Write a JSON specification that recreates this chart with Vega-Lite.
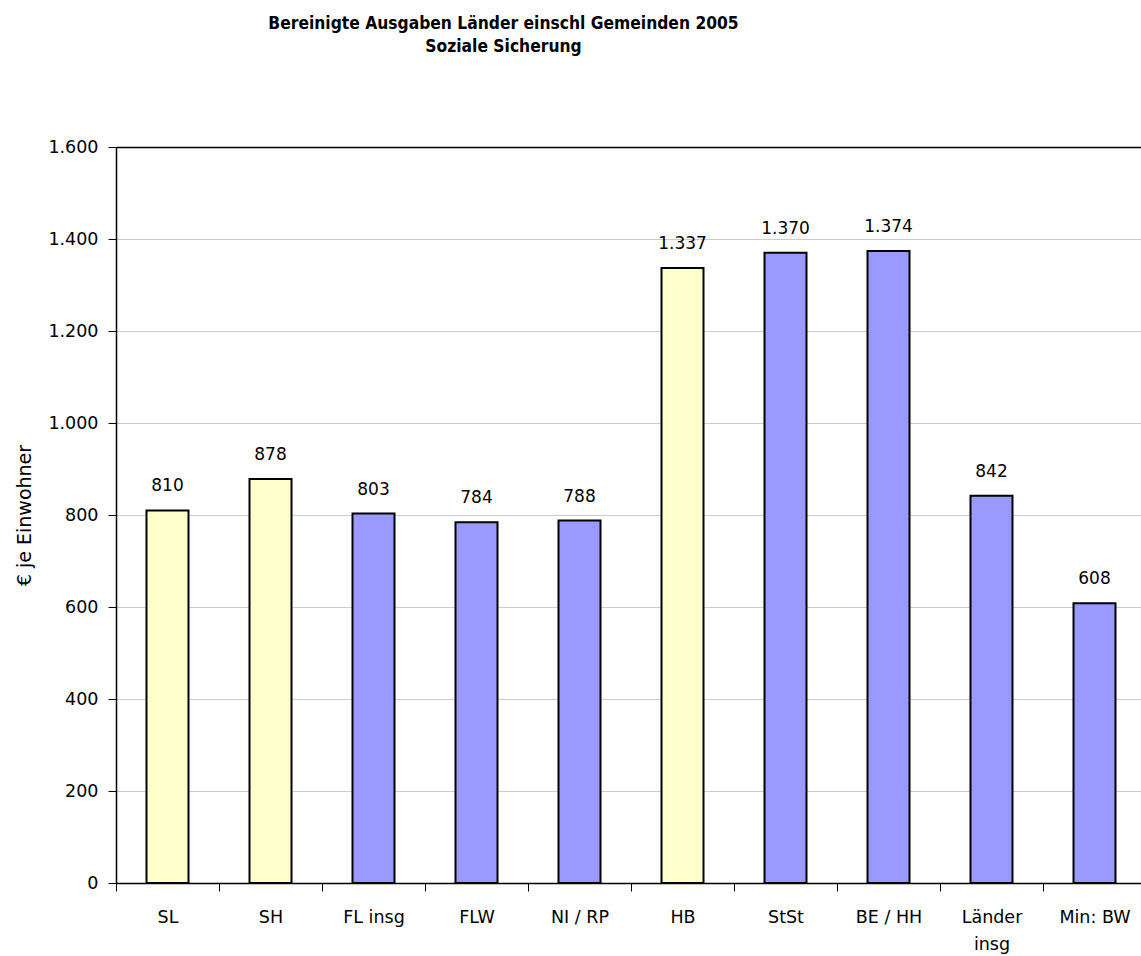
{
  "$schema": "https://vega.github.io/schema/vega-lite/v6.json",
  "autosize": {"type": "none"},
  "width": 1025,
  "height": 736,
  "padding": {"left": 116, "top": 147, "right": 0, "bottom": 73},
  "background": "white",
  "config": {
    "locale": {"number": {"decimal": ",", "thousands": ".", "grouping": [3], "currency": ["", " €"]}},
    "view": {"stroke": null},
    "font": "DejaVu Sans"
  },
  "title": {
    "text": ["Bereinigte Ausgaben Länder einschl Gemeinden 2005", "Soziale Sicherung"],
    "font": "DejaVu Sans Condensed",
    "fontSize": 17.3,
    "fontWeight": "bold",
    "lineHeight": 23,
    "anchor": "middle",
    "frame": "group",
    "dx": -125,
    "offset": 83,
    "color": "black"
  },
  "data": {
    "values": [
      {"land": "SL", "wert": 810, "gruppe": "gelb"},
      {"land": "SH", "wert": 878, "gruppe": "gelb"},
      {"land": "FL insg", "wert": 803, "gruppe": "blau"},
      {"land": "FLW", "wert": 784, "gruppe": "blau"},
      {"land": "NI / RP", "wert": 788, "gruppe": "blau"},
      {"land": "HB", "wert": 1337, "gruppe": "gelb"},
      {"land": "StSt", "wert": 1370, "gruppe": "blau"},
      {"land": "BE / HH", "wert": 1374, "gruppe": "blau"},
      {"land": "Länder insg", "wert": 842, "gruppe": "blau"},
      {"land": "Min: BW", "wert": 608, "gruppe": "blau"}
    ]
  },
  "encoding": {
    "x": {
      "field": "land",
      "type": "nominal",
      "sort": null,
      "scale": {"range": [0, 1030], "paddingInner": 0, "paddingOuter": 0},
      "axis": {
        "title": null,
        "labelAngle": 0,
        "labelFont": "DejaVu Sans",
        "labelFontSize": 17.5,
        "labelColor": "black",
        "labelPadding": 17,
        "labelLineHeight": 27,
        "labelExpr": "datum.label == 'Länder insg' ? ['Länder', 'insg'] : datum.label",
        "tickBand": "extent",
        "tickSize": 8,
        "tickColor": "black",
        "tickWidth": 1,
        "domainColor": "black",
        "domainWidth": 1.5,
        "grid": false
      }
    },
    "y": {
      "field": "wert",
      "type": "quantitative",
      "scale": {"domain": [0, 1600], "nice": false},
      "axis": {
        "title": "€ je Einwohner",
        "titleFont": "DejaVu Sans",
        "titleFontSize": 19,
        "titleFontWeight": "normal",
        "titleColor": "black",
        "titlePadding": 13,
        "values": [0, 200, 400, 600, 800, 1000, 1200, 1400, 1600],
        "format": ",d",
        "labelFont": "DejaVu Sans",
        "labelFontSize": 17.5,
        "labelColor": "black",
        "labelPadding": 10,
        "tickSize": 8,
        "tickColor": "black",
        "domainColor": "black",
        "domainWidth": 1.5,
        "grid": true,
        "gridColor": {"condition": {"test": "datum.value == 1600", "value": "black"}, "value": "#CCCCCC"},
        "gridWidth": {"condition": {"test": "datum.value == 1600", "value": 1.5}, "value": 1}
      }
    }
  },
  "layer": [
    {
      "mark": {"type": "bar", "size": 42, "stroke": "black", "strokeWidth": 2},
      "encoding": {
        "color": {
          "field": "gruppe",
          "type": "nominal",
          "scale": {"domain": ["gelb", "blau"], "range": ["#FFFFCC", "#9999FF"]},
          "legend": null
        }
      }
    },
    {
      "mark": {"type": "text", "baseline": "alphabetic", "dy": -19, "fontSize": 17, "font": "DejaVu Sans", "color": "black"},
      "encoding": {
        "text": {"field": "wert", "type": "quantitative", "format": ",d"}
      }
    }
  ]
}
